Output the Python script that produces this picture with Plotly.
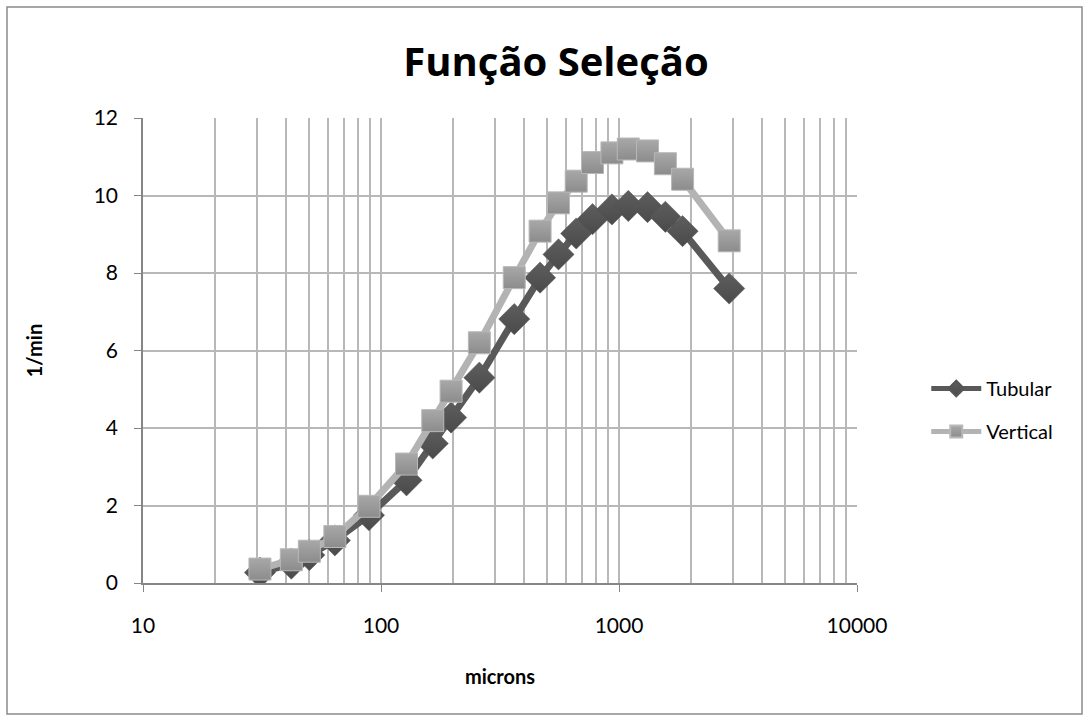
import plotly.graph_objects as go

# Data
microns = [31, 42, 50, 64, 89, 128, 165, 197, 259, 363, 466, 557, 661, 774, 934, 1094, 1318, 1566, 1850, 2904]
tubular = [0.27, 0.5, 0.72, 1.1, 1.75, 2.65, 3.6, 4.27, 5.3, 6.81, 7.88, 8.48, 9.02, 9.39, 9.64, 9.73, 9.70, 9.45, 9.08, 7.6]
vertical = [0.36, 0.6, 0.82, 1.2, 1.98, 3.07, 4.19, 4.95, 6.2, 7.88, 9.08, 9.81, 10.37, 10.85, 11.1, 11.2, 11.15, 10.82, 10.42, 8.83]

x_major = [10, 100, 1000, 10000]
x_minor = [m * d for d in [10, 100, 1000] for m in range(2, 10)]
y_ticks = [0, 2, 4, 6, 8, 10, 12]

FONT = "Lato, 'Open Sans', sans-serif"

fig = go.Figure()
fig.add_trace(go.Scatter(
    x=microns, y=tubular, name="Tubular", mode="lines+markers", legendgroup="t",
    line=dict(color="#595959", width=7),
    marker=dict(symbol="diamond", size=24, color="#5e5e5e",
                gradient=dict(type="vertical", color="#4a4a4a"),
                line=dict(color="#555555", width=0.5)),
))
fig.add_trace(go.Scatter(
    x=microns, y=vertical, name="Vertical", mode="lines+markers", legendgroup="v",
    line=dict(color="#b3b3b3", width=7),
    marker=dict(symbol="square", size=22, color="#a8a8a8",
                gradient=dict(type="vertical", color="#8c8c8c"),
                line=dict(color="#b8b8b8", width=1)),
))

fig.update_layout(
    width=1089, height=721,
    margin=dict(l=143, r=232, t=118, b=138),
    paper_bgcolor="white", plot_bgcolor="white",
    font=dict(family=FONT, color="black", size=17),
    title=dict(text="<b>Função Seleção</b>", x=556/1089, xanchor="center",
               y=1 - 62/721, yanchor="middle",
               font=dict(size=40, family="'Open Sans', Lato, sans-serif")),
    showlegend=True,
    legend=dict(x=1.097, xanchor="left", y=0.372, yanchor="middle",
                font=dict(size=20, family=FONT), itemwidth=50,
                tracegroupgap=14, bgcolor="rgba(0,0,0,0)", itemsizing="constant"),
    shapes=[dict(type="rect", xref="paper", yref="paper",
                 x0=(7-143)/714, x1=(1082-143)/714, y0=(583-714)/465, y1=(583-7)/465,
                 line=dict(color="#8a8a8a", width=1.5), layer="below")],
)

fig.update_xaxes(
    type="log", range=[1, 4],
    tickvals=x_major, ticktext=[str(v) for v in x_major],
    ticks="outside", ticklen=7, tickcolor="#868686",
    ticklabelstandoff=16,
    showgrid=True, gridcolor="#b8b8b8", gridwidth=1.5,
    minor=dict(tickvals=x_minor, showgrid=True, gridcolor="#b8b8b8", gridwidth=1.5, ticks=""),
    showline=True, linecolor="#868686", linewidth=1.5,
    zeroline=False,
    title=dict(text="<b>microns</b>", font=dict(size=20, family=FONT), standoff=34),
    tickfont=dict(size=21, family=FONT),
)
fig.update_yaxes(
    range=[0, 12], tickvals=y_ticks,
    ticks="outside", ticklen=7, tickcolor="#868686",
    ticklabelstandoff=12,
    showgrid=True, gridcolor="#b8b8b8", gridwidth=1.5,
    showline=True, linecolor="#868686", linewidth=1.5,
    zeroline=False,
    title=dict(text="<b>1/min</b>", font=dict(size=20, family=FONT), standoff=46),
    tickfont=dict(size=21, family=FONT),
)

fig.write_html("out.html", config={"displayModeBar": False},
               post_script="document.body.style.margin='0';document.body.style.overflow='hidden';")
